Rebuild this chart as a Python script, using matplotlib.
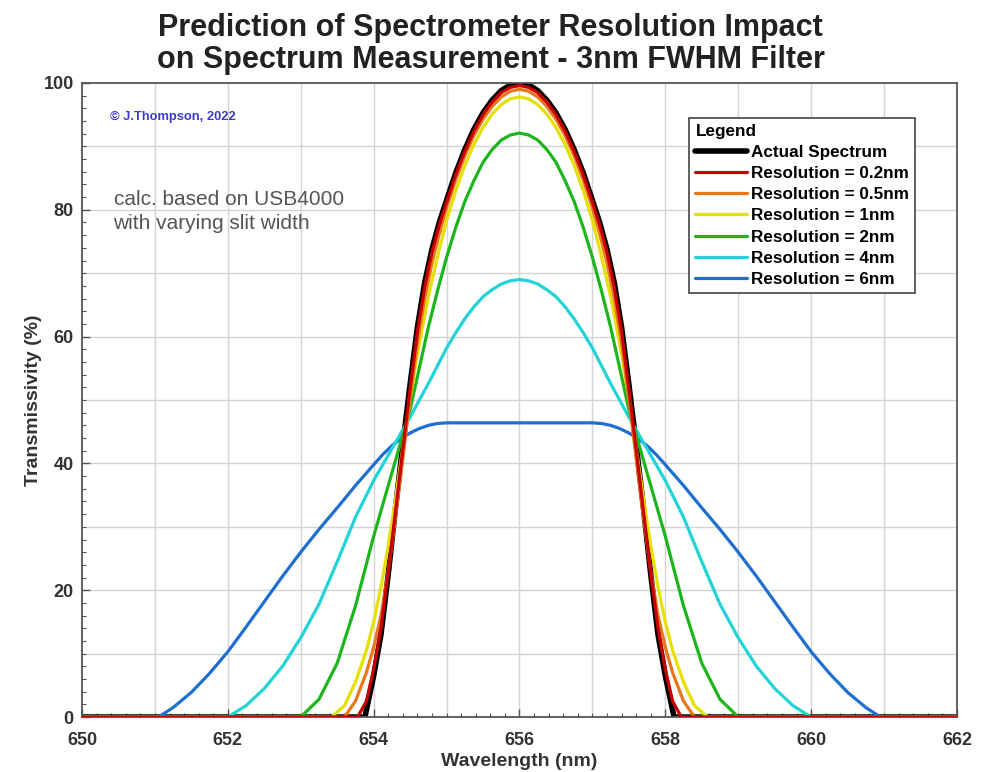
import matplotlib
matplotlib.use("Agg")
import matplotlib.pyplot as plt
from matplotlib.ticker import MultipleLocator

plt.rcParams['font.family'] = ['Liberation Sans', 'DejaVu Sans']

# --- Data: (wavelength nm, transmissivity %) ---
actual = [(650, 0), (653.88, 0), (654.0, 6.5), (654.1, 13), (654.2, 22.5), (654.3, 33),
          (654.4, 43), (654.5, 52.5), (654.6, 61.5), (654.7, 68.5), (654.8, 73.8), (654.9, 78.0),
          (655.0, 81.5), (655.125, 85.8), (655.25, 89.5), (655.375, 92.7), (655.5, 95.3),
          (655.625, 97.3), (655.75, 98.8), (655.875, 99.7), (656.0, 100),
          (656.125, 99.7), (656.25, 98.8), (656.375, 97.3), (656.5, 95.3), (656.625, 92.7),
          (656.75, 89.5), (656.875, 85.8), (657.0, 81.5), (657.1, 78.0), (657.2, 73.8),
          (657.3, 68.5), (657.4, 61.5), (657.5, 52.5), (657.6, 43), (657.7, 33), (657.8, 22.5),
          (657.9, 13), (658.0, 6.5), (658.12, 0), (662, 0)]

res_02 = [(650, 0), (653.78, 0), (653.9, 2.5), (654.0, 7.5), (654.1, 14), (654.2, 22.8),
          (654.3, 32.5), (654.4, 42.3), (654.5, 51.8), (654.6, 60.8), (654.7, 67.8),
          (654.8, 73.3), (654.9, 77.6), (655.0, 81.2), (655.125, 85.5), (655.25, 89.2),
          (655.375, 92.4), (655.5, 95.0), (655.625, 97.0), (655.75, 98.5), (655.875, 99.3),
          (656.0, 99.6),
          (656.125, 99.3), (656.25, 98.5), (656.375, 97.0), (656.5, 95.0), (656.625, 92.4),
          (656.75, 89.2), (656.875, 85.5), (657.0, 81.2), (657.1, 77.6), (657.2, 73.3),
          (657.3, 67.8), (657.4, 60.8), (657.5, 51.8), (657.6, 42.3), (657.7, 32.5),
          (657.8, 22.8), (657.9, 14), (658.0, 7.5), (658.1, 2.5), (658.22, 0), (662, 0)]

res_05 = [(650, 0), (653.6, 0), (653.75, 2.5), (653.9, 7), (654.0, 11), (654.1, 16),
          (654.2, 23), (654.3, 31.5), (654.4, 40.8), (654.5, 50.3), (654.6, 59.0),
          (654.7, 66.0), (654.8, 71.6), (654.9, 76.2), (655.0, 80.3), (655.125, 84.7),
          (655.25, 88.5), (655.375, 91.7), (655.5, 94.3), (655.625, 96.3), (655.75, 97.8),
          (655.875, 98.7), (656.0, 99.0),
          (656.125, 98.7), (656.25, 97.8), (656.375, 96.3), (656.5, 94.3), (656.625, 91.7),
          (656.75, 88.5), (656.875, 84.7), (657.0, 80.3), (657.1, 76.2), (657.2, 71.6),
          (657.3, 66.0), (657.4, 59.0), (657.5, 50.3), (657.6, 40.8), (657.7, 31.5),
          (657.8, 23), (657.9, 16), (658.0, 11), (658.1, 7), (658.25, 2.5), (658.4, 0),
          (662, 0)]

res_1 = [(650, 0), (653.42, 0), (653.6, 1.8), (653.75, 5.5), (653.9, 10.5), (654.0, 15),
         (654.1, 20.5), (654.2, 27), (654.3, 34.5), (654.4, 42.5), (654.5, 50.3),
         (654.6, 57.3), (654.75, 66.3), (654.875, 72.6), (655.0, 78.3), (655.125, 83.0),
         (655.25, 87.0), (655.375, 90.3), (655.5, 93.0), (655.625, 95.1), (655.75, 96.6),
         (655.875, 97.5), (656.0, 97.8),
         (656.125, 97.5), (656.25, 96.6), (656.375, 95.1), (656.5, 93.0), (656.625, 90.3),
         (656.75, 87.0), (656.875, 83.0), (657.0, 78.3), (657.125, 72.6), (657.25, 66.3),
         (657.4, 57.3), (657.5, 50.3), (657.6, 42.5), (657.7, 34.5), (657.8, 27),
         (657.9, 20.5), (658.0, 15), (658.1, 10.5), (658.25, 5.5), (658.4, 1.8),
         (658.58, 0), (662, 0)]

res_2 = [(650, 0), (653.0, 0), (653.25, 2.8), (653.5, 8.5), (653.75, 17.5), (654.0, 28.5),
         (654.25, 38.5), (654.5, 48.5), (654.625, 55), (654.75, 61.5), (654.875, 67.2),
         (655.0, 72.5), (655.125, 77.2), (655.25, 81.3), (655.375, 84.6), (655.5, 87.5),
         (655.625, 89.5), (655.75, 91.0), (655.875, 91.8), (656.0, 92.1),
         (656.125, 91.8), (656.25, 91.0), (656.375, 89.5), (656.5, 87.5), (656.625, 84.6),
         (656.75, 81.3), (656.875, 77.2), (657.0, 72.5), (657.125, 67.2), (657.25, 61.5),
         (657.375, 55), (657.5, 48.5), (657.75, 38.5), (658.0, 28.5), (658.25, 17.5),
         (658.5, 8.5), (658.75, 2.8), (659.0, 0), (662, 0)]

res_4 = [(650, 0), (652.0, 0), (652.25, 1.8), (652.5, 4.5), (652.75, 8.0), (653.0, 12.5),
         (653.25, 17.8), (653.5, 24.5), (653.75, 31.5), (654.0, 37.3), (654.25, 42.3),
         (654.5, 47.3), (654.75, 52.6), (655.0, 58.2), (655.125, 60.6), (655.25, 62.8),
         (655.375, 64.7), (655.5, 66.3), (655.625, 67.4), (655.75, 68.3), (655.875, 68.8),
         (656.0, 69.0),
         (656.125, 68.8), (656.25, 68.3), (656.375, 67.4), (656.5, 66.3), (656.625, 64.7),
         (656.75, 62.8), (656.875, 60.6), (657.0, 58.2), (657.25, 52.6), (657.5, 47.3),
         (657.75, 42.3), (658.0, 37.3), (658.25, 31.5), (658.5, 24.5), (658.75, 17.8),
         (659.0, 12.5), (659.25, 8.0), (659.5, 4.5), (659.75, 1.8), (660.0, 0), (662, 0)]

res_6 = [(650, 0), (651.05, 0), (651.25, 1.5), (651.5, 3.9), (651.75, 6.9), (652.0, 10.3),
         (652.25, 14.2), (652.5, 18.2), (652.75, 22.2), (653.0, 26.0), (653.25, 29.6),
         (653.5, 33.0), (653.75, 36.5), (654.0, 39.8), (654.125, 41.4), (654.25, 42.8),
         (654.375, 43.9), (654.5, 44.8), (654.625, 45.5), (654.75, 46.0), (654.875, 46.3),
         (655.0, 46.4), (656.0, 46.4),
         (657.0, 46.4), (657.125, 46.3), (657.25, 46.0), (657.375, 45.5), (657.5, 44.8),
         (657.625, 43.9), (657.75, 42.8), (657.875, 41.4), (658.0, 39.8), (658.25, 36.5),
         (658.5, 33.0), (658.75, 29.6), (659.0, 26.0), (659.25, 22.2), (659.5, 18.2),
         (659.75, 14.2), (660.0, 10.3), (660.25, 6.9), (660.5, 3.9), (660.75, 1.5),
         (660.95, 0), (662, 0)]

legend_order = ['Actual Spectrum', 'Resolution = 0.2nm', 'Resolution = 0.5nm',
                'Resolution = 1nm', 'Resolution = 2nm', 'Resolution = 4nm', 'Resolution = 6nm']

# --- Figure ---
fig = plt.figure(figsize=(9.81, 7.72), dpi=100)
ax = fig.add_axes([0.0836, 0.0712, 0.8919, 0.8213])

def draw(series, **kw):
    xs, ys = zip(*series)
    return ax.plot(xs, ys, solid_joinstyle='round', solid_capstyle='round', **kw)[0]

h6 = draw(res_6, color='#1f6fd0', lw=2.3, zorder=3)
h4 = draw(res_4, color='#22d3d8', lw=2.3, zorder=4)
h2 = draw(res_2, color='#1db51d', lw=2.3, zorder=5)
h1 = draw(res_1, color='#e6e000', lw=2.3, zorder=6)
h05 = draw(res_05, color='#e8761a', lw=2.3, zorder=7)
ha = draw(actual, color='black', lw=4.0, zorder=2)
h02 = draw(res_02, color='#c80000', lw=2.3, zorder=8)

ax.set_xlim(650, 662)
ax.set_ylim(0, 100)
ax.xaxis.set_major_locator(MultipleLocator(2))
ax.xaxis.set_minor_locator(MultipleLocator(0.2))
ax.yaxis.set_major_locator(MultipleLocator(20))
ax.yaxis.set_minor_locator(MultipleLocator(2))

# grid every 1 nm and every 10 %
for xv in range(651, 662):
    ax.axvline(xv, color='#d4d4d4', lw=1.0, zorder=0)
for yv in range(10, 100, 10):
    ax.axhline(yv, color='#d4d4d4', lw=1.0, zorder=0)

ax.tick_params(axis='both', which='major', direction='in', length=6, width=1,
               color='#555555', labelsize=13, labelcolor='#333333')
ax.tick_params(axis='x', which='major', pad=11)
ax.tick_params(axis='y', which='major', pad=6)
ax.tick_params(axis='both', which='minor', direction='in', length=3, width=0.8,
               color='#555555')
for lbl in ax.get_xticklabels() + ax.get_yticklabels():
    lbl.set_fontweight('bold')
for sp in ax.spines.values():
    sp.set_color('#555555')
    sp.set_linewidth(1.3)

ax.set_xlabel('Wavelength (nm)', fontsize=14, fontweight='bold', color='#333333', labelpad=3)
ax.set_ylabel('Transmissivity (%)', fontsize=14, fontweight='bold', color='#333333', labelpad=1)

fig.text(0.5, 0.983, 'Prediction of Spectrometer Resolution Impact\non Spectrum Measurement - 3nm FWHM Filter',
         ha='center', va='top', fontsize=22, fontweight='bold', color='#222222', linespacing=1.1)

ax.text(0.032, 0.946, '\u00a9 J.Thompson, 2022', transform=ax.transAxes, fontsize=9.3,
        fontweight='bold', color='#3a3ad0', va='center', ha='left')
ax.text(0.036, 0.831, 'calc. based on USB4000\nwith varying slit width', transform=ax.transAxes,
        fontsize=15, color='#555555', va='top', ha='left', linespacing=1.3)

leg = ax.legend([ha, h02, h05, h1, h2, h4, h6], legend_order, loc='upper right',
                bbox_to_anchor=(0.952, 0.945), title='Legend', alignment='left',
                prop={'weight': 'bold', 'size': 12.3}, fancybox=False, edgecolor='#444444',
                framealpha=1, handlelength=3.0, handletextpad=0.25, labelspacing=0.36,
                borderpad=0.35, borderaxespad=0)
leg.get_title().set_fontweight('bold')
leg.get_title().set_fontsize(12.3)
leg.get_frame().set_linewidth(1.2)
leg.set_zorder(10)

plt.savefig('out.png', dpi=100)
